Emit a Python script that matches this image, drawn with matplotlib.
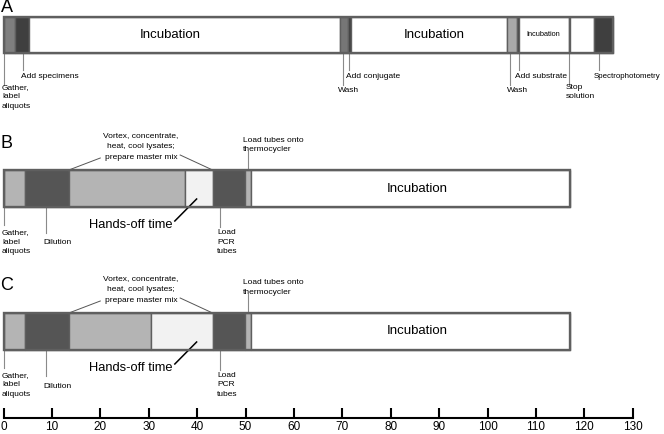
import numpy as np
import matplotlib
matplotlib.use("Agg")
import matplotlib.pyplot as plt

plt.rcParams['font.family'] = ['Liberation Sans', 'DejaVu Sans']

# ---------------- data (minutes) ----------------
a_steps = ["Gather, label aliquots", "Add specimens", "Incubation", "Wash", "Add conjugate",
           "Incubation", "Wash", "Add substrate", "Incubation", "Stop solution", "Blank",
           "Spectrophotometry"]
a_durations = [2.4, 2.9, 64.2, 1.6, 0.6, 32.4, 1.9, 0.5, 10.3, 0.2, 5.0, 4.0]
a_colors = ['#7f7f7f', '#3f3f3f', 'white', '#767676', '#3f3f3f', 'white', '#a9a9a9',
            '#3f3f3f', 'white', '#555555', 'white', '#3f3f3f']

b_steps = ["Gather, label aliquots", "Dilution", "Vortex, concentrate, heat, cool lysates; prepare master mix",
           "Hands-off time", "Load PCR tubes", "Load tubes onto thermocycler", "Incubation"]
b_durations = [4.5, 9.0, 24.0, 5.7, 6.7, 1.2, 66.0]
c_durations = [4.5, 9.0, 17.0, 12.7, 6.7, 1.2, 66.0]
bc_colors = ['#b4b4b4', '#555555', '#b4b4b4', '#f2f2f2', '#555555', '#b4b4b4', 'white']

axis_ticks = list(range(0, 131, 10))

# ---------------- layout helpers (pixel-based vertical coords) ----------------
W, H = 664, 434
PX0, PXU = 3.5, 4.84  # px of minute 0, px per minute
fig = plt.figure(figsize=(W / 100, H / 100), dpi=100)
ax = fig.add_axes([0, 0, 1, 1])
xmin, xmax = -PX0 / PXU, (W - PX0) / PXU
ax.set_xlim(xmin, xmax)
ax.set_ylim(H, 0)
ax.axis('off')

edge = '#5f5f5f'
lc = '#8a8a8a'
small = 6.0


def draw_bar(durs, colors, top, height):
    lefts = np.concatenate([[0], np.cumsum(durs)[:-1]])
    ax.barh(top + height / 2, durs, left=lefts, height=height, color=colors,
            edgecolor=edge, linewidth=1.0, zorder=2)
    ax.barh(top + height / 2, sum(durs), left=0, height=height, color='none',
            edgecolor=edge, linewidth=1.7, zorder=3)
    return lefts


def callout(x, y0, y1, text, tx, ty, va='center', ls=1.5, fs=small):
    ax.plot([x, x], [y0, y1], color=lc, lw=0.8, zorder=1)
    ax.text(tx, ty, text, fontsize=fs, ha='left', va=va, linespacing=ls)


# ---------------- Panel A ----------------
ax.text(-0.6, 7, "A", fontsize=13, ha='left', va='center')
aT, aH = 17, 36
lefts_a = draw_bar(a_durations, a_colors, aT, aH)
aB = aT + aH
ax.text(34.5, aT + aH / 2, "Incubation", fontsize=9.5, ha='center', va='center')
ax.text(88.9, aT + aH / 2, "Incubation", fontsize=9.5, ha='center', va='center')
ax.text(111.6, aT + aH / 2, "Incubation", fontsize=5.3, ha='center', va='center')

callout(0.2, aB, 85, "Gather,\nlabel\naliquots", -0.3, 84, va='top')
callout(4.0, aB, 70, "Add specimens", 3.6, 77)
callout(70.1, aB, 85, "Wash", 69.1, 90)
callout(71.4, aB, 70, "Add conjugate", 70.8, 77)
callout(104.6, aB, 85, "Wash", 104.0, 90)
callout(106.5, aB, 70, "Add substrate", 105.7, 77)
callout(116.8, aB, 85, "Stop\nsolution", 116.2, 84, va='top')
callout(123.0, aB, 70, "Spectrophotometry", 122.0, 77, fs=5.7)


# ---------------- Panels B and C ----------------
def panel_bc(letter, durs, off):
    ax.text(-0.6, 143 + off, letter, fontsize=13, ha='left', va='center')
    top, hh = 170 + off, 37
    lefts = draw_bar(durs, bc_colors, top, hh)
    bot = top + hh
    ax.text(85.5, top + hh / 2, "Incubation", fontsize=9.5, ha='center', va='center')
    callout(0.2, bot, 225 + off, "Gather,\nlabel\naliquots", -0.3, 229 + off, va='top')
    callout(8.7, bot, 233 + off, "Dilution", 8.2, 243 + off)
    callout(44.7, bot, 227 + off, "Load\nPCR\ntubes", 44.1, 229 + off, va='top')
    # load tubes onto thermocycler (above)
    ltx = lefts[5] + durs[5] / 2
    ax.plot([ltx, ltx], [top, 151 + off], color=lc, lw=0.8, zorder=1)
    ax.text(49.5, 153 + off, "Load tubes onto\nthermocycler", fontsize=small, ha='left',
            va='bottom', linespacing=1.5)
    # vortex text with two leader lines
    ax.text(28.4, 161 + off, "Vortex, concentrate,\nheat, cool lysates;\nprepare master mix",
            fontsize=small, ha='center', va='bottom', linespacing=1.75)
    ax.plot([20.0, lefts[2]], [158 + off, top], color='#555555', lw=0.7)
    ax.plot([36.5, lefts[3] + durs[3]], [155 + off, top], color='#555555', lw=0.7)
    # hands-off time
    ax.text(26.3, 225 + off, "Hands-off time", fontsize=9.3, ha='center', va='center')
    ax.plot([35.4, 39.9], [221 + off, 199 + off], color='black', lw=1.1)


panel_bc("B", b_durations, 0)
panel_bc("C", c_durations, 143)

# ---------------- time axis ----------------
ax_y = 418
ax2 = fig.add_axes([0, (H - ax_y) / H, 1, 0.02])
ax2.set_xlim(xmin, xmax)
ax2.patch.set_visible(False)
for s in ['top', 'left', 'right']:
    ax2.spines[s].set_visible(False)
ax2.spines['bottom'].set_bounds(0, 130)
ax2.spines['bottom'].set_linewidth(1.5)
ax2.set_yticks([])
ax2.set_xticks(axis_ticks)
ax2.set_xticklabels([str(t) for t in axis_ticks], fontsize=8.5)
ax2.tick_params(axis='x', direction='in', length=7, width=1.5, pad=2)

fig.savefig("out.png", dpi=100)
